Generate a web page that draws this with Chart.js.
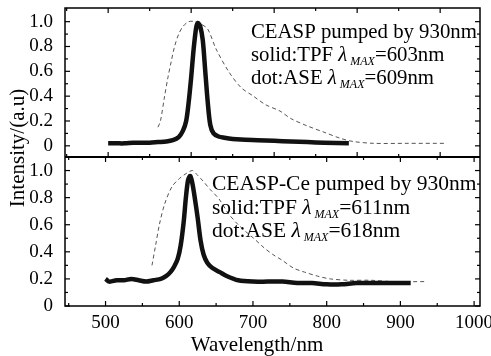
<!DOCTYPE html>
<html>
<head>
<meta charset="utf-8">
<script src="https://cdn.jsdelivr.net/npm/chart.js@4"></script>
<style>
html, body { margin: 0; padding: 0; background: #fff; }
</style>
</head>
<body>
<canvas id="c" width="491" height="356"></canvas>
<script>
// 上段 CEASP (x 軸は下段と目盛りが少し違う)
const topTpfX = [500, 510, 520, 530, 540, 550, 560, 570, 578, 585, 590, 594, 597, 600, 603, 606, 608, 611, 614, 617, 620, 623, 627, 633, 640, 650, 660, 680, 700, 720, 740, 760, 790];
const topTpfY = [0.02, 0.02, 0.02, 0.025, 0.025, 0.025, 0.03, 0.035, 0.045, 0.07, 0.12, 0.2, 0.35, 0.55, 0.78, 0.95, 0.99, 0.96, 0.85, 0.6, 0.35, 0.17, 0.1, 0.075, 0.065, 0.055, 0.05, 0.045, 0.04, 0.035, 0.03, 0.025, 0.02];
const topAseX = [560, 563, 568, 572, 576, 580, 585, 590, 597, 605, 612, 620, 630, 645, 660, 675, 690, 707, 720, 740, 760, 780, 795, 820, 860, 908];
const topAseY = [0.15, 0.2, 0.4, 0.55, 0.68, 0.8, 0.9, 0.96, 1.0, 1.0, 0.98, 0.94, 0.78, 0.6, 0.47, 0.4, 0.33, 0.28, 0.22, 0.16, 0.11, 0.06, 0.035, 0.02, 0.02, 0.02];

// 下段 CEASP-Ce
const botTpfX = [500, 505, 515, 525, 535, 545, 555, 565, 575, 582, 588, 593, 598, 602, 606, 609, 612, 615, 618, 621, 625, 629, 633, 638, 645, 655, 665, 680, 700, 720, 740, 760, 780, 800, 820, 840, 860, 880, 900, 914];
const botTpfY = [0.2, 0.18, 0.19, 0.19, 0.2, 0.19, 0.18, 0.19, 0.2, 0.22, 0.25, 0.29, 0.35, 0.45, 0.62, 0.8, 0.93, 0.96, 0.9, 0.8, 0.65, 0.48, 0.38, 0.32, 0.28, 0.25, 0.22, 0.19, 0.18, 0.18, 0.18, 0.17, 0.17, 0.16, 0.16, 0.17, 0.17, 0.17, 0.17, 0.17];
const botAseX = [563, 568, 573, 580, 590, 600, 610, 618, 624, 631, 642, 654, 667, 680, 690, 701, 715, 727, 739, 755, 770, 788, 805, 830, 860, 890, 933];
const botAseY = [0.3, 0.45, 0.6, 0.75, 0.88, 0.94, 0.98, 1.0, 0.97, 0.93, 0.86, 0.79, 0.68, 0.6, 0.55, 0.5, 0.43, 0.38, 0.34, 0.28, 0.25, 0.22, 0.2, 0.19, 0.19, 0.18, 0.18];

const xTicks = [500, 600, 700, 800, 900, 1000];
const yTicks = [0, 0.2, 0.4, 0.6, 0.8, 1.0];

const serif = '"Liberation Serif", "DejaVu Serif", serif';

function pts(xs, ys) {
    return xs.map((x, i) => ({ x: x, y: ys[i] }));
}

const yLabel = v => (v === 0 ? '0' : v.toFixed(1));

// 枠・内向き目盛り・注記
const decor = {
    id: 'decor',
    afterDatasetsDraw(chart) {
        const ctx = chart.ctx;
        const a = chart.chartArea;
        const s = chart.scales;
        const sep = s.yTop.bottom;
        ctx.save();
        ctx.strokeStyle = '#000';
        ctx.lineWidth = 1.5;
        ctx.strokeRect(a.left, a.top, a.right - a.left, a.bottom - a.top);
        ctx.lineWidth = 2;
        ctx.beginPath();
        ctx.moveTo(a.left, sep);
        ctx.lineTo(a.right, sep);
        ctx.stroke();

        ctx.lineWidth = 1.2;
        function tick(x1, y1, x2, y2) {
            ctx.beginPath();
            ctx.moveTo(x1, y1);
            ctx.lineTo(x2, y2);
            ctx.stroke();
        }
        // x 目盛り
        [[s.xTop, a.top, sep, 450, 950], [s.xBot, sep, a.bottom, 450, 1000]].forEach(([sc, t, b, lo, hi]) => {
            for (let v = lo; v <= hi; v += 50) {
                if (v < sc.min || v > sc.max) continue;
                const px = sc.getPixelForValue(v);
                const len = v % 100 === 0 ? 5 : 3;
                tick(px, t, px, t + len);
                tick(px, b, px, b - len);
            }
        });
        // y 目盛り
        [s.yTop, s.yBot].forEach(sc => {
            for (let i = 0; i <= 10; i++) {
                const v = i / 10;
                const py = sc.getPixelForValue(v);
                const len = i % 2 === 0 ? 5 : 3;
                tick(a.left, py, a.left + len, py);
                tick(a.right, py, a.right - len, py);
            }
        });

        ctx.fillStyle = '#000';
        ctx.textBaseline = 'alphabetic';
        function line(x, y, parts) {
            parts.forEach(p => {
                ctx.font = p.f;
                ctx.fillText(p.t, x, y + (p.dy || 0));
                x += ctx.measureText(p.t).width;
            });
        }
        function lam(size, prefix, rest) {
            return [
                { t: prefix, f: size + 'px ' + serif },
                { t: 'λ', f: 'italic ' + size + 'px ' + serif },
                { t: ' MAX', f: 'italic 12px ' + serif, dy: 4 },
                { t: rest, f: size + 'px ' + serif }
            ];
        }
        line(251, 38, [{ t: 'CEASP pumped by 930nm', f: '20.8px ' + serif }]);
        line(251, 61, lam(20.8, 'solid:TPF ', '=603nm'));
        line(251, 84, lam(20.8, 'dot:ASE ', '=609nm'));
        line(212, 190, [{ t: 'CEASP-Ce pumped by 930nm', f: '21.5px ' + serif }]);
        line(212, 214, lam(21.5, 'solid:TPF ', '=611nm'));
        line(212, 237, lam(21.5, 'dot:ASE ', '=618nm'));

        // 軸タイトル
        ctx.font = '21px ' + serif;
        ctx.textAlign = 'center';
        ctx.textBaseline = 'middle';
        ctx.fillText('Wavelength/nm', 257, 345);
        ctx.translate(18, 148);
        ctx.rotate(-Math.PI / 2);
        ctx.fillText('Intensity/(a.u)', 0, 0);
        ctx.restore();
    }
};

const tickFont = { family: serif, size: 19, lineHeight: 1 };

const yAxis = (min, max) => ({
    type: 'linear',
    position: 'left',
    stack: 'panels',
    stackWeight: 1,
    min: min,
    max: max,
    afterBuildTicks: sc => { sc.ticks = yTicks.map(v => ({ value: v })); },
    afterFit: sc => {
        sc.width = 65;
        sc.paddingTop = 0;
        sc.paddingBottom = 0;
    },
    grid: { display: false },
    border: { display: false },
    ticks: { font: tickFont, color: '#000', padding: 4, callback: yLabel, autoSkip: false }
});

new Chart(document.getElementById('c').getContext('2d'), {
    type: 'line',
    data: {
        datasets: [
            { data: pts(topTpfX, topTpfY), xAxisID: 'xTop', yAxisID: 'yTop', borderColor: '#111', borderWidth: 4.5, tension: 0.3 },
            { data: pts(topAseX, topAseY), xAxisID: 'xTop', yAxisID: 'yTop', borderColor: '#555', borderWidth: 1, borderDash: [4, 3], tension: 0.3 },
            { data: pts(botTpfX, botTpfY), xAxisID: 'xBot', yAxisID: 'yBot', borderColor: '#111', borderWidth: 4.5, tension: 0.3 },
            { data: pts(botAseX, botAseY), xAxisID: 'xBot', yAxisID: 'yBot', borderColor: '#555', borderWidth: 1, borderDash: [4, 3], tension: 0.3 }
        ]
    },
    options: {
        responsive: false,
        animation: false,
        devicePixelRatio: 1,
        elements: { point: { radius: 0 } },
        layout: { padding: { top: 8, right: 11, left: 0, bottom: 0 } },
        plugins: { legend: { display: false }, tooltip: { enabled: false } },
        scales: {
            // 左側の積み重ね軸は後に定義したものが上に来る
            yBot: yAxis(0, 1.1),
            yTop: yAxis(-0.09, 1.11),
            xTop: { type: 'linear', position: 'bottom', display: false, min: 448, max: 948 },
            xBot: {
                type: 'linear',
                position: 'bottom',
                min: 445,
                max: 1008,
                afterBuildTicks: sc => { sc.ticks = xTicks.map(v => ({ value: v })); },
                afterFit: sc => {
                    sc.height = 50;
                    sc.paddingLeft = 0;
                    sc.paddingRight = 0;
                },
                grid: { display: false },
                border: { display: false },
                ticks: { font: tickFont, color: '#000', padding: 0, maxRotation: 0, autoSkip: false, callback: v => String(v) }
            }
        }
    },
    plugins: [decor]
});
</script>
</body>
</html>
